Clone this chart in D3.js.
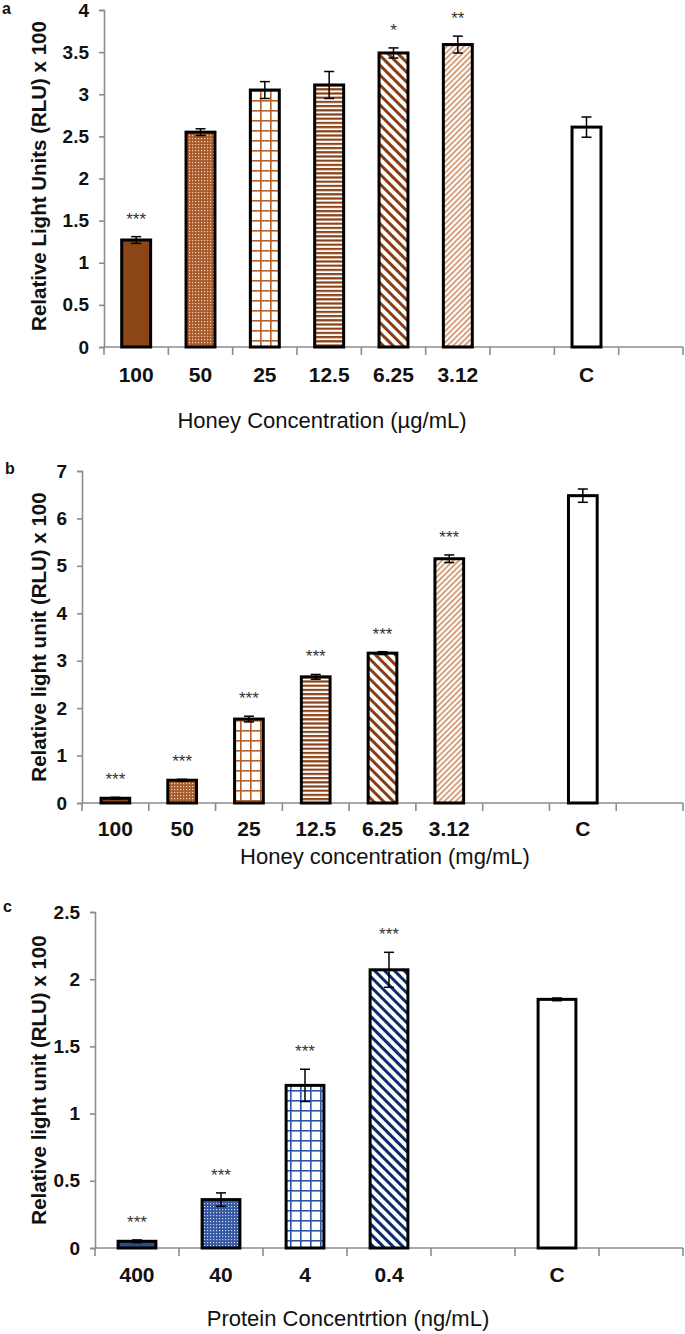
<!DOCTYPE html>
<html><head><meta charset="utf-8">
<script src="https://cdn.jsdelivr.net/npm/d3@7"></script>
<style>body{margin:0;background:#fff} svg{display:block}</style>
</head><body><svg id="chart" width="685" height="1334"></svg>
<script>
// ---------- DATA ----------
const catsA = ["100","50","25","12.5","6.25","3.12","","C",""];
const valsA = [1.27,2.55,3.05,3.11,3.49,3.59,null,2.61,null];
const errsA = [0.04,0.04,0.10,0.16,0.06,0.10,null,0.12,null];
const starsA = ["***","","","","*","**","","",""];
const ticksA = [0,0.5,1,1.5,2,2.5,3,3.5,4];

const catsB = ["100","50","25","12.5","6.25","3.12","","C",""];
const valsB = [0.10,0.48,1.77,2.66,3.16,5.15,null,6.48,null];
const errsB = [0.02,0.02,0.06,0.05,0.03,0.08,null,0.14,null];
const starsB = ["***","***","***","***","***","***","","",""];
const ticksB = [0,1,2,3,4,5,6,7];

const catsC = ["400","40","4","0.4","","C",""];
const valsC = [0.05,0.36,1.21,2.07,null,1.85,null];
const errsC = [0.01,0.05,0.12,0.13,null,0.01,null];
const starsC = ["***","***","***","***","","",""];
const ticksC = [0,0.5,1,1.5,2,2.5];

// ---------- STYLES ----------
const honeyFills = ["solid","dots","grid","hstripe","wdiag","ldiag",null,"white",null];
const proteinFills = ["solid","dots","grid","wdiag",null,"white",null];
const FONT = "'Liberation Sans', Arial, Helvetica, sans-serif";

const svg = d3.select("#chart");
const defs = svg.append("defs");

function makePatterns(prefix, c) {
  let p = defs.append("pattern").attr("id", prefix+"dots").attr("patternUnits","userSpaceOnUse").attr("width",3).attr("height",3);
  p.append("rect").attr("width",3).attr("height",3).attr("fill",c.dotBg);
  p.append("rect").attr("x",0).attr("y",0).attr("width",1.2).attr("height",1.2).attr("fill",c.dotFg);
  p = defs.append("pattern").attr("id", prefix+"grid").attr("patternUnits","userSpaceOnUse").attr("width",10).attr("height",10);
  p.append("rect").attr("width",10).attr("height",10).attr("fill","#fff");
  p.append("rect").attr("x",0).attr("y",0).attr("width",10).attr("height",1.6).attr("fill",c.grid);
  p.append("rect").attr("x",0).attr("y",0).attr("width",1.6).attr("height",10).attr("fill",c.grid);
  p = defs.append("pattern").attr("id", prefix+"hstripe").attr("patternUnits","userSpaceOnUse").attr("width",4).attr("height",4.2);
  p.append("rect").attr("width",4).attr("height",4.2).attr("fill","#fff");
  p.append("rect").attr("width",4).attr("height",2.2).attr("fill",c.stripe);
  p = defs.append("pattern").attr("id", prefix+"wdiag").attr("patternUnits","userSpaceOnUse").attr("width",7).attr("height",7).attr("patternTransform","rotate(45)");
  p.append("rect").attr("width",7).attr("height",7).attr("fill","#fff");
  p.append("rect").attr("width",7).attr("height",3).attr("fill",c.wdiag);
  p = defs.append("pattern").attr("id", prefix+"ldiag").attr("patternUnits","userSpaceOnUse").attr("width",4).attr("height",4).attr("patternTransform","rotate(-45)");
  p.append("rect").attr("width",4).attr("height",4).attr("fill","#fff");
  p.append("rect").attr("width",4).attr("height",1.6).attr("fill",c.ldiag);
}
makePatterns("h_", {dotBg:"#a85a2c", dotFg:"#f0d2b8", grid:"#b0612c", stripe:"#8c4318", wdiag:"#8a3c12", ldiag:"#cc8d62"});
makePatterns("p_", {dotBg:"#3556a0", dotFg:"#c8d6f0", grid:"#2c55a6", stripe:"#1c3a80", wdiag:"#0d2a6c", ldiag:"#5070b0"});

function fillFor(prefix, f, solid) {
  if (f === "solid") return solid;
  if (f === "white") return "#fff";
  return "url(#" + prefix + f + ")";
}

const AXIS = "#8c8c8c";

function drawPanel(cfg) {
  const g = svg.append("g");
  const n = cfg.cats.length;
  const x = d3.scaleBand().domain(d3.range(n)).range([cfg.left, cfg.right]).paddingInner(0).paddingOuter(0);
  const y = d3.scaleLinear().domain([0, cfg.ymax]).range([cfg.y0, cfg.yTop]);
  const bw = x.bandwidth() * cfg.barFrac;

  const ya = g.append("g").attr("transform", `translate(${cfg.left},0)`)
    .call(d3.axisLeft(y).tickValues(cfg.ticks).tickSize(5).tickPadding(10).tickFormat(d => String(d)));
  ya.select(".domain").attr("stroke", AXIS).attr("stroke-width", 1.6);
  ya.selectAll(".tick line").attr("stroke", AXIS).attr("stroke-width", 1.6);
  ya.selectAll(".tick text").attr("font-family", FONT)
    .attr("font-weight", "bold").attr("font-size", 19).attr("fill", "#111");

  g.append("line").attr("x1", cfg.left).attr("x2", cfg.right).attr("y1", cfg.y0).attr("y2", cfg.y0)
    .attr("stroke", AXIS).attr("stroke-width", 1.6);
  const bounds = d3.range(n).map(i => x(i)).concat([x(n-1) + x.bandwidth()]);
  g.selectAll(".bt").data(bounds).join("line")
    .attr("x1", d => d).attr("x2", d => d).attr("y1", cfg.y0).attr("y2", cfg.y0 + 8)
    .attr("stroke", AXIS).attr("stroke-width", 1.6);
  g.selectAll(".xl").data(cfg.cats).join("text")
    .attr("x", (d, i) => x(i) + x.bandwidth() / 2).attr("y", cfg.tickLabelY)
    .attr("text-anchor", "middle").attr("font-family", FONT)
    .attr("font-weight", "bold").attr("font-size", 21).attr("fill", "#111").text(d => d);

  const idx = d3.range(n).filter(i => cfg.vals[i] != null);
  g.selectAll(".bar").data(idx).join("rect")
    .attr("x", i => x(i) + (x.bandwidth() - bw) / 2).attr("width", bw)
    .attr("y", i => y(cfg.vals[i])).attr("height", i => cfg.y0 - y(cfg.vals[i]))
    .attr("fill", i => fillFor(cfg.prefix, cfg.fills[i], cfg.solid))
    .attr("stroke", "#000").attr("stroke-width", 3);
  const cap = 5;
  idx.forEach(i => {
    const cx = x(i) + x.bandwidth() / 2, v = cfg.vals[i], e = cfg.errs[i];
    const eg = g.append("g").attr("stroke", "#000").attr("stroke-width", 1.5);
    eg.append("line").attr("x1", cx).attr("x2", cx).attr("y1", y(v - e)).attr("y2", y(v + e));
    eg.append("line").attr("x1", cx - cap).attr("x2", cx + cap).attr("y1", y(v + e)).attr("y2", y(v + e));
    eg.append("line").attr("x1", cx - cap).attr("x2", cx + cap).attr("y1", y(v - e)).attr("y2", y(v - e));
  });
  g.selectAll(".st").data(idx.filter(i => cfg.stars[i])).join("text")
    .attr("x", i => x(i) + x.bandwidth() / 2)
    .attr("y", i => y(cfg.vals[i] + cfg.errs[i]) - 12)
    .attr("text-anchor", "middle").attr("font-family", FONT)
    .attr("font-size", 17).attr("fill", "#333").text(i => cfg.stars[i]);

  g.append("text").attr("x", cfg.labelX).attr("y", cfg.labelY).attr("font-family", FONT)
    .attr("font-weight", "bold").attr("font-size", 16).attr("fill", "#111").text(cfg.label);
  g.append("text").attr("transform", `translate(${cfg.yTitleX},${cfg.yTitleY}) rotate(-90)`)
    .attr("text-anchor", "middle").attr("font-family", FONT)
    .attr("font-weight", "bold").attr("font-size", 20.5).attr("fill", "#111").text(cfg.yTitle);
  g.append("text").attr("x", cfg.xTitleX).attr("y", cfg.xTitleY)
    .attr("text-anchor", "middle").attr("font-family", FONT)
    .attr("font-size", 22).attr("fill", "#111").text(cfg.xTitle);
}

drawPanel({cats: catsA, vals: valsA, errs: errsA, stars: starsA, ticks: ticksA, fills: honeyFills,
  prefix: "h_", solid: "#8b4516", left: 104, right: 683, y0: 347, yTop: 10, ymax: 4, barFrac: 0.45,
  tickLabelY: 382, label: "a", labelX: 2, labelY: 14,
  yTitle: "Relative Light Units (RLU) x 100", yTitleX: 46, yTitleY: 176,
  xTitle: "Honey Concentration  (µg/mL)", xTitleX: 322, xTitleY: 428});

drawPanel({cats: catsB, vals: valsB, errs: errsB, stars: starsB, ticks: ticksB, fills: honeyFills,
  prefix: "h_", solid: "#8b4516", left: 82, right: 683, y0: 803, yTop: 471, ymax: 7, barFrac: 0.43,
  tickLabelY: 836, label: "b", labelX: 5, labelY: 474,
  yTitle: "Relative light unit (RLU) x 100", yTitleX: 46, yTitleY: 637,
  xTitle: "Honey concentration (mg/mL)", xTitleX: 385, xTitleY: 864});

drawPanel({cats: catsC, vals: valsC, errs: errsC, stars: starsC, ticks: ticksC, fills: proteinFills,
  prefix: "p_", solid: "#2d4c84", left: 95, right: 683, y0: 1248, yTop: 912, ymax: 2.5, barFrac: 0.45,
  tickLabelY: 1282, label: "c", labelX: 3, labelY: 912,
  yTitle: "Relative light unit (RLU) x 100", yTitleX: 46, yTitleY: 1080,
  xTitle: "Protein Concentrtion  (ng/mL)", xTitleX: 348, xTitleY: 1326});
</script></body></html>
